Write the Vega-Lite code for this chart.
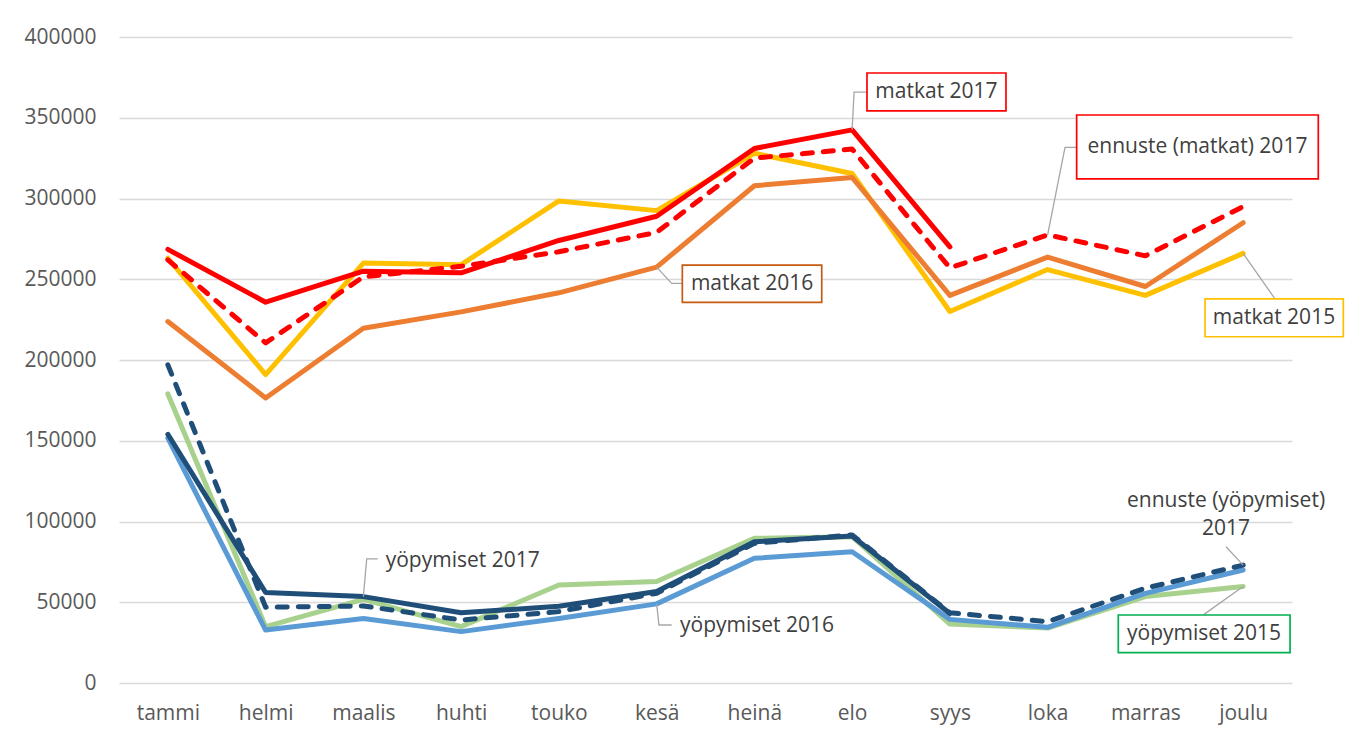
{
  "$schema": "https://vega.github.io/schema/vega-lite/v6.json",
  "autosize": {"type": "none"},
  "padding": {"left": 119, "top": 37, "right": 62, "bottom": 52},
  "width": 1173,
  "height": 646,
  "background": "white",
  "config": {
    "view": {"stroke": null},
    "font": "Open Sans"
  },
  "datasets": {
    "actual": [
      {"i": 0, "series": "matkat 2015", "value": 263000},
      {"i": 1, "series": "matkat 2015", "value": 191000},
      {"i": 2, "series": "matkat 2015", "value": 260000},
      {"i": 3, "series": "matkat 2015", "value": 259000},
      {"i": 4, "series": "matkat 2015", "value": 298500},
      {"i": 5, "series": "matkat 2015", "value": 292500},
      {"i": 6, "series": "matkat 2015", "value": 328000},
      {"i": 7, "series": "matkat 2015", "value": 315500},
      {"i": 8, "series": "matkat 2015", "value": 230000},
      {"i": 9, "series": "matkat 2015", "value": 256000},
      {"i": 10, "series": "matkat 2015", "value": 240000},
      {"i": 11, "series": "matkat 2015", "value": 266000},
      {"i": 0, "series": "matkat 2016", "value": 223800},
      {"i": 1, "series": "matkat 2016", "value": 176500},
      {"i": 2, "series": "matkat 2016", "value": 219700},
      {"i": 3, "series": "matkat 2016", "value": 229800},
      {"i": 4, "series": "matkat 2016", "value": 241600},
      {"i": 5, "series": "matkat 2016", "value": 257500},
      {"i": 6, "series": "matkat 2016", "value": 307900},
      {"i": 7, "series": "matkat 2016", "value": 313000},
      {"i": 8, "series": "matkat 2016", "value": 240000},
      {"i": 9, "series": "matkat 2016", "value": 263700},
      {"i": 10, "series": "matkat 2016", "value": 245500},
      {"i": 11, "series": "matkat 2016", "value": 285000},
      {"i": 0, "series": "matkat 2017", "value": 268500},
      {"i": 1, "series": "matkat 2017", "value": 235800},
      {"i": 2, "series": "matkat 2017", "value": 255000},
      {"i": 3, "series": "matkat 2017", "value": 254000},
      {"i": 4, "series": "matkat 2017", "value": 274000},
      {"i": 5, "series": "matkat 2017", "value": 289000},
      {"i": 6, "series": "matkat 2017", "value": 331000},
      {"i": 7, "series": "matkat 2017", "value": 342500},
      {"i": 8, "series": "matkat 2017", "value": 270000},
      {"i": 0, "series": "yöpymiset 2015", "value": 179000},
      {"i": 1, "series": "yöpymiset 2015", "value": 34900},
      {"i": 2, "series": "yöpymiset 2015", "value": 51800},
      {"i": 3, "series": "yöpymiset 2015", "value": 34900},
      {"i": 4, "series": "yöpymiset 2015", "value": 60700},
      {"i": 5, "series": "yöpymiset 2015", "value": 62800},
      {"i": 6, "series": "yöpymiset 2015", "value": 89600},
      {"i": 7, "series": "yöpymiset 2015", "value": 90600},
      {"i": 8, "series": "yöpymiset 2015", "value": 36500},
      {"i": 9, "series": "yöpymiset 2015", "value": 34000},
      {"i": 10, "series": "yöpymiset 2015", "value": 53500},
      {"i": 11, "series": "yöpymiset 2015", "value": 59700},
      {"i": 0, "series": "yöpymiset 2016", "value": 151600},
      {"i": 1, "series": "yöpymiset 2016", "value": 32800},
      {"i": 2, "series": "yöpymiset 2016", "value": 40000},
      {"i": 3, "series": "yöpymiset 2016", "value": 31800},
      {"i": 4, "series": "yöpymiset 2016", "value": 40000},
      {"i": 5, "series": "yöpymiset 2016", "value": 49000},
      {"i": 6, "series": "yöpymiset 2016", "value": 77200},
      {"i": 7, "series": "yöpymiset 2016", "value": 81300},
      {"i": 8, "series": "yöpymiset 2016", "value": 39400},
      {"i": 9, "series": "yöpymiset 2016", "value": 34500},
      {"i": 10, "series": "yöpymiset 2016", "value": 55500},
      {"i": 11, "series": "yöpymiset 2016", "value": 70000},
      {"i": 0, "series": "yöpymiset 2017", "value": 154000},
      {"i": 1, "series": "yöpymiset 2017", "value": 56000},
      {"i": 2, "series": "yöpymiset 2017", "value": 53500},
      {"i": 3, "series": "yöpymiset 2017", "value": 43500},
      {"i": 4, "series": "yöpymiset 2017", "value": 47500},
      {"i": 5, "series": "yöpymiset 2017", "value": 56600},
      {"i": 6, "series": "yöpymiset 2017", "value": 87500},
      {"i": 7, "series": "yöpymiset 2017", "value": 91000},
      {"i": 8, "series": "yöpymiset 2017", "value": 43000}
    ],
    "forecast": [
      {"i": 0, "series": "ennuste (matkat) 2017", "value": 262000},
      {"i": 1, "series": "ennuste (matkat) 2017", "value": 210600},
      {"i": 2, "series": "ennuste (matkat) 2017", "value": 251500},
      {"i": 3, "series": "ennuste (matkat) 2017", "value": 258000},
      {"i": 4, "series": "ennuste (matkat) 2017", "value": 267000},
      {"i": 5, "series": "ennuste (matkat) 2017", "value": 279000},
      {"i": 6, "series": "ennuste (matkat) 2017", "value": 325000},
      {"i": 7, "series": "ennuste (matkat) 2017", "value": 330600},
      {"i": 8, "series": "ennuste (matkat) 2017", "value": 257000},
      {"i": 9, "series": "ennuste (matkat) 2017", "value": 277500},
      {"i": 10, "series": "ennuste (matkat) 2017", "value": 264500},
      {"i": 11, "series": "ennuste (matkat) 2017", "value": 295000},
      {"i": 0, "series": "ennuste (yöpymiset) 2017", "value": 197000},
      {"i": 1, "series": "ennuste (yöpymiset) 2017", "value": 46900},
      {"i": 2, "series": "ennuste (yöpymiset) 2017", "value": 47700},
      {"i": 3, "series": "ennuste (yöpymiset) 2017", "value": 39000},
      {"i": 4, "series": "ennuste (yöpymiset) 2017", "value": 44200},
      {"i": 5, "series": "ennuste (yöpymiset) 2017", "value": 55600},
      {"i": 6, "series": "ennuste (yöpymiset) 2017", "value": 86500},
      {"i": 7, "series": "ennuste (yöpymiset) 2017", "value": 91700},
      {"i": 8, "series": "ennuste (yöpymiset) 2017", "value": 43500},
      {"i": 9, "series": "ennuste (yöpymiset) 2017", "value": 38000},
      {"i": 10, "series": "ennuste (yöpymiset) 2017", "value": 58700},
      {"i": 11, "series": "ennuste (yöpymiset) 2017", "value": 73000}
    ],
    "leaders": [
      {"id": "a", "k": 0, "lx": 7.0, "ly": 342500},
      {"id": "a", "k": 1, "lx": 7.02, "ly": 365900},
      {"id": "a", "k": 2, "lx": 7.15, "ly": 365900},
      {"id": "b", "k": 0, "lx": 9.0, "ly": 277500},
      {"id": "b", "k": 1, "lx": 9.178, "ly": 331700},
      {"id": "b", "k": 2, "lx": 9.297, "ly": 331700},
      {"id": "c", "k": 0, "lx": 5.0, "ly": 257500},
      {"id": "c", "k": 1, "lx": 5.154, "ly": 247400},
      {"id": "c", "k": 2, "lx": 5.263, "ly": 247400},
      {"id": "d", "k": 0, "lx": 11.0, "ly": 266000},
      {"id": "d", "k": 1, "lx": 11.326, "ly": 237800},
      {"id": "e", "k": 0, "lx": 2.0, "ly": 53500},
      {"id": "e", "k": 1, "lx": 2.034, "ly": 76800},
      {"id": "e", "k": 2, "lx": 2.147, "ly": 76800},
      {"id": "f", "k": 0, "lx": 5.0, "ly": 49000},
      {"id": "f", "k": 1, "lx": 5.024, "ly": 35900},
      {"id": "f", "k": 2, "lx": 5.154, "ly": 35900},
      {"id": "g", "k": 0, "lx": 11.0, "ly": 73000},
      {"id": "g", "k": 1, "lx": 10.825, "ly": 84400},
      {"id": "h", "k": 0, "lx": 11.0, "ly": 59700},
      {"id": "h", "k": 1, "lx": 10.6, "ly": 42500}
    ],
    "boxes": [
      {"series": "matkat 2017", "bx1": 7.152, "bx2": 8.574, "by1": 377700, "by2": 354200},
      {"series": "ennuste (matkat) 2017", "bx1": 9.297, "bx2": 11.769, "by1": 351700, "by2": 312100},
      {"series": "matkat 2016", "bx1": 5.263, "bx2": 6.689, "by1": 258800, "by2": 235700},
      {"series": "matkat 2015", "bx1": 10.61, "bx2": 12.025, "by1": 237800, "by2": 214400},
      {"series": "yöpymiset 2015", "bx1": 9.723, "bx2": 11.48, "by1": 42100, "by2": 18800}
    ],
    "labels": [
      {"label": "matkat 2017", "tx": 7.863, "ty": 365900},
      {"label": "ennuste (matkat) 2017", "tx": 10.533, "ty": 331900},
      {"label": "matkat 2016", "tx": 5.976, "ty": 247200},
      {"label": "matkat 2015", "tx": 11.316, "ty": 226000},
      {"label": "yöpymiset 2017", "tx": 3.016, "ty": 75500},
      {"label": "yöpymiset 2016", "tx": 6.027, "ty": 35300},
      {"label": "ennuste (yöpymiset)", "tx": 10.825, "ty": 112900},
      {"label": "2017", "tx": 10.825, "ty": 95200},
      {"label": "yöpymiset 2015", "tx": 10.6, "ty": 30300}
    ]
  },
  "layer": [
    {
      "data": {"name": "actual"},
      "mark": {"type": "line", "strokeWidth": 5, "strokeJoin": "round", "strokeCap": "round"},
      "encoding": {
        "x": {
          "field": "i", "type": "quantitative",
          "scale": {"domain": [-0.5, 11.5], "nice": false, "zero": false},
          "axis": {
            "title": null, "values": [0,1,2,3,4,5,6,7,8,9,10,11],
            "labelExpr": "['tammi','helmi','maalis','huhti','touko','kesä','heinä','elo','syys','loka','marras','joulu'][datum.value]",
            "grid": false, "ticks": false, "domain": false,
            "labelFont": "Open Sans", "labelFontSize": 21, "labelColor": "#595959", "labelPadding": 19
          }
        },
        "y": {
          "field": "value", "type": "quantitative",
          "scale": {"domain": [0, 400000], "nice": false},
          "axis": {
            "title": null, "values": [0,50000,100000,150000,200000,250000,300000,350000,400000],
            "format": "d", "grid": true, "gridColor": "#D9D9D9", "gridWidth": 1.3,
            "ticks": false, "domain": false,
            "labelFont": "Open Sans", "labelFontSize": 21, "labelColor": "#595959", "labelPadding": 23
          }
        },
        "color": {
          "field": "series", "type": "nominal", "legend": null,
          "scale": {
            "domain": ["matkat 2015", "matkat 2016", "matkat 2017", "yöpymiset 2015", "yöpymiset 2016", "yöpymiset 2017"],
            "range": ["#FFC000", "#ED7D31", "#FF0000", "#A9D18E", "#5B9BD5", "#1F4E79"]
          }
        }
      }
    },
    {
      "data": {"name": "forecast"},
      "mark": {"type": "line", "strokeWidth": 5, "strokeJoin": "round", "strokeCap": "round", "strokeDash": [10, 11]},
      "encoding": {
        "x": {"field": "i", "type": "quantitative"},
        "y": {"field": "value", "type": "quantitative"},
        "stroke": {
          "field": "series", "type": "nominal", "legend": null,
          "scale": {
            "domain": ["ennuste (matkat) 2017", "ennuste (yöpymiset) 2017"],
            "range": ["#FF0000", "#1F4E79"]
          }
        },
        "detail": {"field": "series"}
      }
    },
    {
      "data": {"name": "leaders"},
      "mark": {"type": "line", "color": "#A6A6A6", "strokeWidth": 1.3},
      "encoding": {
        "x": {"field": "lx", "type": "quantitative"},
        "y": {"field": "ly", "type": "quantitative"},
        "detail": {"field": "id"},
        "order": {"field": "k", "type": "quantitative"}
      }
    },
    {
      "data": {"name": "boxes"},
      "mark": {"type": "rect", "fill": "white", "strokeWidth": 1.7},
      "encoding": {
        "x": {"field": "bx1", "type": "quantitative"},
        "x2": {"field": "bx2"},
        "y": {"field": "by1", "type": "quantitative"},
        "y2": {"field": "by2"},
        "stroke": {
          "field": "series", "type": "nominal", "legend": null,
          "scale": {
            "domain": ["matkat 2017", "ennuste (matkat) 2017", "matkat 2016", "matkat 2015", "yöpymiset 2015"],
            "range": ["#FF0000", "#FF0000", "#C55A11", "#FFC000", "#00B050"]
          }
        }
      }
    },
    {
      "data": {"name": "labels"},
      "mark": {"type": "text", "font": "Open Sans", "fontSize": 21, "color": "#404040", "align": "center", "baseline": "middle"},
      "encoding": {
        "x": {"field": "tx", "type": "quantitative"},
        "y": {"field": "ty", "type": "quantitative"},
        "text": {"field": "label"}
      }
    }
  ],
  "resolve": {"scale": {"stroke": "independent"}}
}
